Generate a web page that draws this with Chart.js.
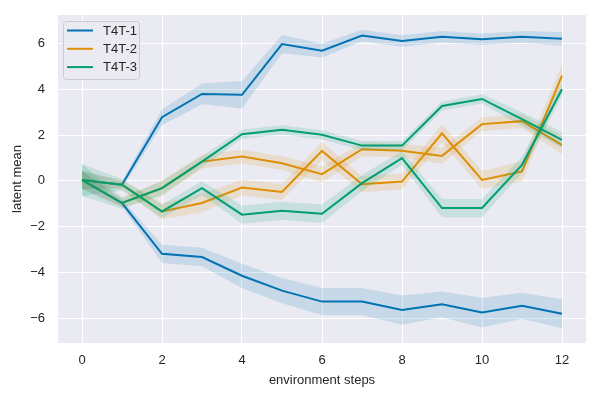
<!DOCTYPE html>
<html>
<head>
<meta charset="utf-8">
<script src="https://cdn.jsdelivr.net/npm/chart.js@4/dist/chart.umd.min.js"></script>
<style>
  html, body { margin: 0; padding: 0; background: #fff; }
  canvas { display: block; }
</style>
</head>
<body>
<canvas id="chart" width="600" height="400"></canvas>
<script>
// === Data ===
var steps = [0, 1, 2, 3, 4, 5, 6, 7, 8, 9, 10, 11, 12];
var xTicks = [0, 2, 4, 6, 8, 10, 12];
var yTicks = [-6, -4, -2, 0, 2, 4, 6];

// T4T-1, two runs
var t4t1A    = [0.04, -0.17, 2.78, 3.80, 3.76, 5.98, 5.69, 6.35, 6.11, 6.30, 6.19, 6.30, 6.21];
var t4t1AErr = [0.40, 0.15, 0.35, 0.45, 0.60, 0.40, 0.30, 0.25, 0.25, 0.25, 0.25, 0.25, 0.30];
var t4t1B    = [0.04, -0.97, -3.19, -3.33, -4.15, -4.80, -5.28, -5.28, -5.65, -5.40, -5.76, -5.46, -5.81];
var t4t1BErr = [0.40, 0.15, 0.40, 0.40, 0.53, 0.55, 0.60, 0.60, 0.64, 0.56, 0.65, 0.57, 0.63];

// T4T-2, two runs
var t4t2A    = [0.04, -0.17, -1.34, -0.97, -0.29, -0.49, 1.31, -0.15, -0.03, 2.08, 0.04, 0.41, 4.60];
var t4t2AErr = [0.40, 0.20, 0.35, 0.40, 0.35, 0.35, 0.40, 0.35, 0.35, 0.40, 0.40, 0.43, 0.50];
var t4t2B    = [0.04, -0.97, -0.32, 0.84, 1.06, 0.77, 0.29, 1.38, 1.32, 1.09, 2.48, 2.61, 1.56];
var t4t2BErr = [0.40, 0.20, 0.35, 0.30, 0.30, 0.30, 0.35, 0.30, 0.30, 0.35, 0.30, 0.30, 0.40];

// T4T-3, two runs
var t4t3A    = [0.04, -0.97, -0.32, 0.84, 2.04, 2.23, 2.01, 1.54, 1.54, 3.27, 3.58, 2.70, 1.79];
var t4t3AErr = [0.70, 0.25, 0.30, 0.25, 0.20, 0.20, 0.20, 0.20, 0.20, 0.20, 0.20, 0.30, 0.35];
var t4t3B    = [0.04, -0.17, -1.34, -0.32, -1.48, -1.31, -1.44, -0.10, 0.99, -1.19, -1.19, 0.70, 4.00];
var t4t3BErr = [0.70, 0.25, 0.30, 0.30, 0.40, 0.40, 0.40, 0.35, 0.30, 0.40, 0.40, 0.35, 0.30];

var seriesNames = ['T4T-1', 'T4T-2', 'T4T-3'];
var colors = ['#0173b2', '#de8f05', '#029e73'];
var bandColors = ['rgba(1,115,178,0.15)', 'rgba(222,143,5,0.15)', 'rgba(2,158,115,0.15)'];

var runs = [
  { s: 0, mean: t4t1A, err: t4t1AErr },
  { s: 0, mean: t4t1B, err: t4t1BErr },
  { s: 1, mean: t4t2A, err: t4t2AErr },
  { s: 1, mean: t4t2B, err: t4t2BErr },
  { s: 2, mean: t4t3A, err: t4t3AErr },
  { s: 2, mean: t4t3B, err: t4t3BErr }
];

function pts(ys) {
  return steps.map(function(x, i) { return { x: x, y: ys[i] }; });
}

// band upper, band lower (filled to upper), then the line; later runs on top
var datasets = [];
var order = 100;
runs.forEach(function(r) {
  var hi = r.mean.map(function(v, i) { return v + r.err[i]; });
  var lo = r.mean.map(function(v, i) { return v - r.err[i]; });
  datasets.push({ data: pts(hi), borderWidth: 0, pointRadius: 0, fill: false, order: order-- });
  datasets.push({ data: pts(lo), borderWidth: 0, pointRadius: 0, fill: '-1',
    backgroundColor: bandColors[r.s], order: order-- });
  datasets.push({ data: pts(r.mean), borderColor: colors[r.s], borderWidth: 2, pointRadius: 0,
    fill: false, order: order--, label: seriesNames[r.s] });
});

var FONT = 'Liberation Sans';
var TEXT = '#262626';

// --- plot background ---
var bgPlugin = {
  id: 'bg',
  beforeDraw: function(chart) {
    var a = chart.chartArea, ctx = chart.ctx;
    ctx.save();
    ctx.fillStyle = '#eaeaf2';
    ctx.fillRect(a.left, a.top, a.right - a.left, a.bottom - a.top);
    ctx.restore();
  }
};

// --- legend box inside the axes, top-left ---
var legendPlugin = {
  id: 'insideLegend',
  afterDatasetsDraw: function(chart) {
    var ctx = chart.ctx, a = chart.chartArea;
    var x = a.left + 5, y = a.top + 6, w = 76, h = 58;
    ctx.save();
    ctx.beginPath();
    ctx.roundRect(x + 0.5, y + 0.5, w, h, 3);
    ctx.fillStyle = 'rgba(234,234,242,0.8)';
    ctx.fill();
    ctx.strokeStyle = '#cccccc';
    ctx.lineWidth = 1;
    ctx.stroke();
    ctx.font = '13px "' + FONT + '"';
    ctx.textBaseline = 'middle';
    seriesNames.forEach(function(name, i) {
      var cy = y + 9.5 + i * 18.3;
      ctx.beginPath();
      ctx.moveTo(x + 4, cy);
      ctx.lineTo(x + 30, cy);
      ctx.strokeStyle = colors[i];
      ctx.lineWidth = 2;
      ctx.stroke();
      ctx.fillStyle = TEXT;
      ctx.fillText(name, x + 40, cy + 0.5);
    });
    ctx.restore();
  }
};

function fmt(v) {
  return v < 0 ? '\u2212' + Math.abs(v) : String(v);
}

new Chart(document.getElementById('chart').getContext('2d'), {
  type: 'line',
  data: { datasets: datasets },
  options: {
    responsive: false,
    animation: false,
    layout: { padding: { left: 0, right: 14, top: 15, bottom: 0 } },
    plugins: {
      legend: { display: false },
      tooltip: { enabled: false }
    },
    scales: {
      x: {
        type: 'linear',
        min: -0.6,
        max: 12.6,
        afterBuildTicks: function(scale) {
          scale.ticks = xTicks.map(function(v) { return { value: v }; });
        },
        afterFit: function(scale) { scale.height = 57; },
        grid: { color: '#ffffff', lineWidth: 1, drawTicks: false },
        border: { display: false },
        ticks: {
          padding: 10,
          color: TEXT,
          font: { family: FONT, size: 13 },
          maxRotation: 0,
          callback: fmt
        },
        title: {
          display: true,
          text: 'environment steps',
          color: TEXT,
          font: { family: FONT, size: 13 },
          padding: { top: 3, bottom: 12 }
        }
      },
      y: {
        type: 'linear',
        min: -7.09,
        max: 7.25,
        afterBuildTicks: function(scale) {
          scale.ticks = yTicks.map(function(v) { return { value: v }; });
        },
        afterFit: function(scale) {
          scale.width = 58;
          // tick padding should not push the plot area down
          scale.paddingTop = 0;
          scale.paddingBottom = 0;
        },
        grid: { color: '#ffffff', lineWidth: 1, drawTicks: false },
        border: { display: false },
        ticks: {
          padding: 13,
          color: TEXT,
          font: { family: FONT, size: 13 },
          callback: fmt
        },
        title: {
          display: true,
          text: 'latent mean',
          color: TEXT,
          font: { family: FONT, size: 13 },
          padding: { top: 10, bottom: 4 }
        }
      }
    }
  },
  plugins: [bgPlugin, legendPlugin]
});
</script>
</body>
</html>
